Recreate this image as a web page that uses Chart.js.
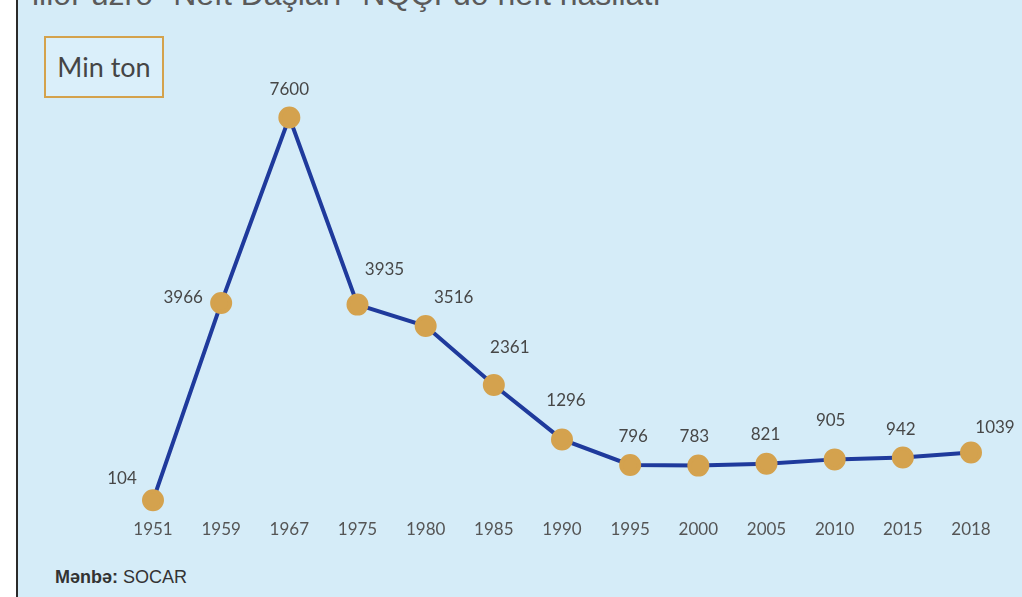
<!DOCTYPE html>
<html>
<head>
<meta charset="utf-8">
<script src="https://cdn.jsdelivr.net/npm/chart.js@4.4.0/dist/chart.umd.min.js"></script>
<style>
  html, body { margin: 0; padding: 0; background: #fff; }
  #wrap { position: relative; width: 1022px; height: 597px; overflow: hidden; }
  #panel { position: absolute; left: 16px; top: 0; width: 1006px; height: 597px;
           background: #d5ecf8; border-left: 2px solid #2a2a2a; box-sizing: border-box; }
  #title { position: absolute; left: 32px; top: -24px; font: 32px "Liberation Sans", Arial, sans-serif;
           color: #5a5a5a; white-space: nowrap; }
  #unit { position: absolute; left: 44px; top: 36px; width: 120px; height: 62px; box-sizing: border-box;
          border: 2px solid #d4a24c; background: #daeffa; font: 27px Lato, "Open Sans", sans-serif;
          color: #454545; line-height: 58px; text-align: center; }
  #source { position: absolute; left: 55px; top: 567px; font: 18px "Liberation Sans", Arial, sans-serif; color: #333; }
  canvas { position: absolute; left: 0; top: 0; }
</style>
</head>
<body>
<div id="wrap">
  <div id="panel"></div>
  <div id="title">illər üzrə "Neft Daşları" NQÇI-də neft hasilatı</div>
  <div id="unit">Min ton</div>
  <div id="source"><b>Mənbə:</b> SOCAR</div>
  <canvas id="chart" width="1022" height="597"></canvas>
</div>
<script>
  // illər və hasilat (min ton)
  const years = ['1951', '1959', '1967', '1975', '1980', '1985', '1990', '1995', '2000', '2005', '2010', '2015', '2018'];
  const output = [104, 3966, 7600, 3935, 3516, 2361, 1296, 796, 783, 821, 905, 942, 1039];

  // etiketlərin nöqtəyə nisbətən yeri (px)
  const labelOffset = [[-31, -22], [-38, -6], [0, -28], [27, -35], [28, -29], [16, -37], [4, -39],
                       [3, -28], [-4, -29], [-1, -29], [-4, -39], [-2, -28], [24, -25]];

  const valueLabels = {
    id: 'valueLabels',
    afterDatasetsDraw(chart) {
      const ctx = chart.ctx;
      const meta = chart.getDatasetMeta(0);
      ctx.save();
      ctx.font = '17px Lato, "Open Sans", sans-serif';
      ctx.fillStyle = '#474747';
      ctx.textAlign = 'center';
      ctx.textBaseline = 'middle';
      meta.data.forEach((pt, i) => {
        const off = labelOffset[i];
        ctx.fillText(String(output[i]), pt.x + off[0], pt.y + off[1]);
      });
      ctx.restore();
    }
  };

  new Chart(document.getElementById('chart').getContext('2d'), {
    type: 'line',
    data: {
      labels: years,
      datasets: [{
        data: output,
        borderColor: '#1f3a9c',
        borderWidth: 4,
        pointBackgroundColor: '#d4a24e',
        pointBorderColor: '#d4a24e',
        pointRadius: 9,
        pointHoverRadius: 9,
        tension: 0,
        clip: false
      }]
    },
    options: {
      responsive: false,
      animation: false,
      layout: { padding: { left: 153, right: 51, top: 97, bottom: 43 } },
      scales: {
        x: {
          offset: false,
          grid: { display: false, drawTicks: false },
          border: { display: false },
          ticks: { color: '#555', padding: 14, font: { size: 17, family: 'Lato, "Open Sans", sans-serif' }, maxRotation: 0 }
        },
        y: {
          display: false,
          min: 0,
          max: 8000
        }
      },
      plugins: {
        legend: { display: false },
        tooltip: { enabled: false }
      }
    },
    plugins: [valueLabels]
  });
</script>
</body>
</html>
